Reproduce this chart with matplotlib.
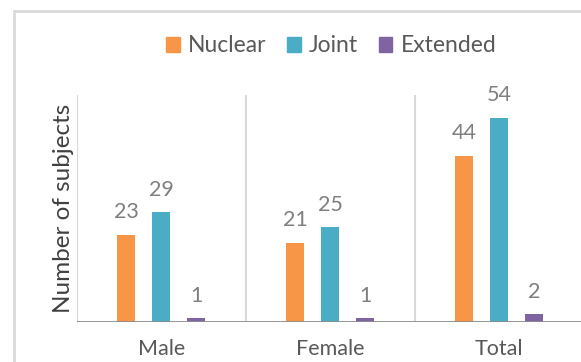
import matplotlib.pyplot as plt
import matplotlib.patches as mpatches
import numpy as np

plt.rcParams['font.family'] = ['Lato', 'DejaVu Sans']

groups = ["Male", "Female", "Total"]
series = ["Nuclear", "Joint", "Extended"]
nuclear = [23, 21, 44]
joint = [29, 25, 54]
extended = [1, 1, 2]
colors = ['#F79646', '#4BACC6', '#8064A2']

fig = plt.figure(figsize=(5.81, 3.62), dpi=100)
ax = fig.add_axes([0.1325, 0.1105, 0.872, 0.627])

x = np.arange(len(groups))
offset = 0.207
width = 0.107
for i, (vals, c, name) in enumerate(zip([nuclear, joint, extended], colors, series)):
    pos = x + (i - 1) * offset
    ax.bar(pos, vals, width, color=c, label=name, zorder=3)
    for p, v in zip(pos, vals):
        ax.annotate(str(v), (p, v), xytext=(0, 9), textcoords='offset points',
                    ha='center', va='bottom', fontsize=15.5, color='#7f7f7f')

ax.set_xlim(-0.5, 2.5)
ax.set_ylim(0, 60)
for b in [-0.5, 0.5, 1.5, 2.5]:
    ax.axvline(b, color='#d9d9d9', lw=1.5, zorder=1)
ax.axhline(0, color='#8c8c8c', lw=2, zorder=4)

for s in ax.spines.values():
    s.set_visible(False)
ax.set_yticks([])
ax.set_xticks(x)
ax.set_xticklabels(groups, fontsize=15.5, color='#595959')
ax.tick_params(axis='x', length=0, pad=12)
ax.set_ylabel("Number of subjects", fontsize=17.5, color='#404040', labelpad=2)

# chart border
fig.add_artist(mpatches.Rectangle((14 / 581, -0.1), 1.0, 1 - 11 / 362 + 0.1,
                                  transform=fig.transFigure, fill=False,
                                  edgecolor='#d9d9d9', lw=2))

handles = [mpatches.Patch(color=c) for c in colors]
fig.legend(handles, series, loc='center', bbox_to_anchor=(0.57, 0.873), ncol=3,
           frameon=False, fontsize=16.5, handlelength=0.6, handleheight=0.6,
           handletextpad=0.35, columnspacing=0.9, labelcolor='#595959')

fig.savefig('out.png', dpi=100)
